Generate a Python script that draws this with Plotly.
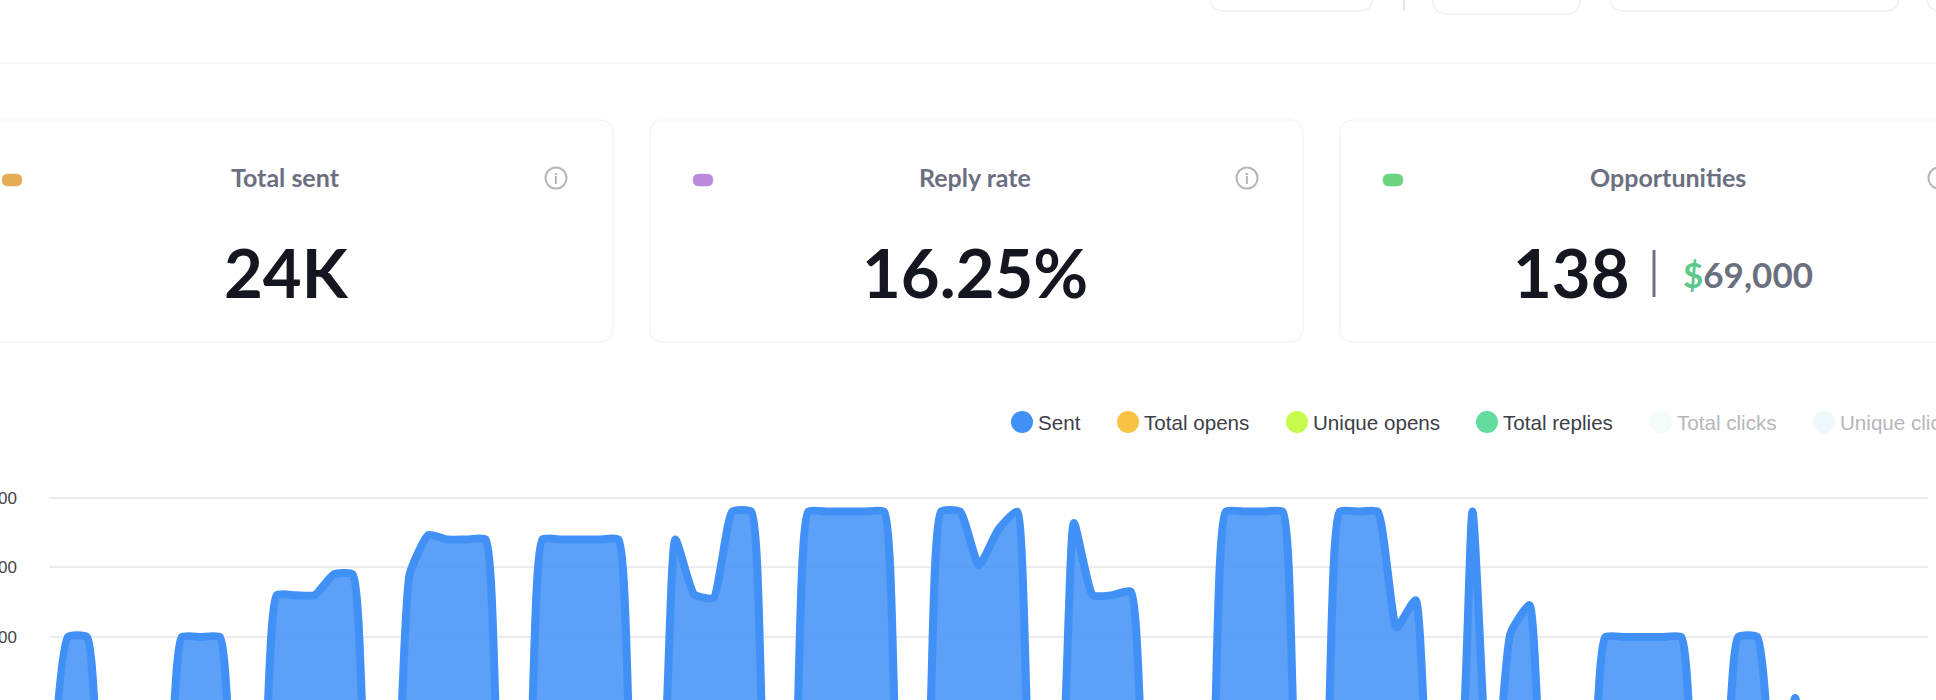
import plotly.graph_objects as go

W = 1936
H = 900  # taller than the window, the bottom of the chart is cut off in the reference

# chart data
days = list(range(100))
sent = [0, 600, 600, 0, 0, 0, 0, 600, 600, 600, 0, 0, 720, 720, 720, 780, 780, 0, 0, 780,
        893, 880, 880, 880, 0, 0, 880, 880, 880, 880, 880, 0, 0, 880, 722, 712, 960, 960, 0, 0,
        960, 960, 960, 960, 960, 0, 0, 960, 960, 806, 907, 960, 0, 0, 927, 720, 720, 730, 0, 0,
        0, 0, 960, 960, 960, 960, 0, 0, 960, 960, 960, 628, 706, 0, 0, 960, 0, 610, 692, 0,
        0, 0, 600, 600, 600, 600, 600, 0, 0, 600, 600, 0, 425, 0, 0, 0, 0, 0, 0, 0]
y_ticks = [1000, 800, 600, 400]
y_labels = ["1000", "800", "600", "400"]

# legend
legend_names = ["Sent", "Total opens", "Unique opens", "Total replies", "Total clicks", "Unique clicks"]
legend_colors = ["#4190f6", "#f8c344", "#c6fb4c", "#63db9c", "#f4fbfb", "#eef8fd"]
legend_text_colors = ["#3c4047", "#3c4047", "#3c4047", "#3c4047", "#b5b7ba", "#b5b7ba"]
legend_x = [1022, 1128, 1297, 1487, 1661, 1824]

# cards
card_titles = ["Total sent", "Reply rate", "Opportunities"]
card_values = ["24K", "16.25%", "138"]
card_pills = ["#e6ac55", "#b88be0", "#6ad47f"]
opportunity_amount = "69,000"


def px(x):
    return x / W


def py(y):
    return 1 - y / H


def round_rect(x0, y0, x1, y1, r):
    # rounded box as a svg path, in paper units
    return (f"M {px(x0 + r)} {py(y0)} L {px(x1 - r)} {py(y0)} Q {px(x1)} {py(y0)} {px(x1)} {py(y0 + r)} "
            f"L {px(x1)} {py(y1 - r)} Q {px(x1)} {py(y1)} {px(x1 - r)} {py(y1)} "
            f"L {px(x0 + r)} {py(y1)} Q {px(x0)} {py(y1)} {px(x0)} {py(y1 - r)} "
            f"L {px(x0)} {py(y0 + r)} Q {px(x0)} {py(y0)} {px(x0 + r)} {py(y0)} Z")


def box(x0, y0, x1, y1, r, line="#f3f4f6", fill="rgba(0,0,0,0)", width=1.5):
    return dict(type="path", xref="paper", yref="paper", path=round_rect(x0, y0, x1, y1, r),
                line=dict(color=line, width=width), fillcolor=fill, layer="below")


def rule(x0, y0, x1, y1, color, width):
    return dict(type="line", xref="paper", yref="paper", x0=px(x0), y0=py(y0), x1=px(x1), y1=py(y1),
                line=dict(color=color, width=width), layer="below")


def dot(x, y, r, fill, line=None, width=0):
    return dict(type="circle", xref="paper", yref="paper", x0=px(x - r), x1=px(x + r), y0=py(y + r), y1=py(y - r),
                fillcolor=fill, line=dict(color=line or fill, width=width), layer="below")


def label(x, y, text, size, color, family="Lato", anchor="center"):
    return dict(xref="paper", yref="paper", x=px(x), y=py(y), text=text, showarrow=False,
                xanchor=anchor, yanchor="middle", font=dict(family=family, size=size, color=color))


shapes = []
annotations = []

# header bits
shapes.append(rule(0, 63, W, 63, "#f1f2f4", 1.5))
shapes.append(box(1210, -30, 1373, 11, 14, line="#f0f0f5"))
shapes.append(rule(1404, 0, 1404, 11, "#e4e4ee", 2))
shapes.append(box(1433, -30, 1580, 14, 14, line="#f0f0f5"))
shapes.append(box(1610, -30, 1899, 11, 14, line="#f0f0f5"))
shapes.append(box(1927, -30, 2000, 11, 14, line="#f0f0f5"))

# cards
card_left = [-60, 650, 1340]
card_right = [613, 1303, 2000]
title_x = [285, 975, 1668]
pill_x = [2, 693, 1383]
info_x = [556, 1247, 1939]
value_x = [286, 975, 1571]
for i in range(3):
    shapes.append(box(card_left[i], 120, card_right[i], 342, 14, line="#f5f5f7"))
    shapes.append(box(pill_x[i], 174, pill_x[i] + 20, 186, 6, line=card_pills[i], fill=card_pills[i], width=0.5))
    shapes.append(dot(info_x[i], 178, 10.5, "rgba(0,0,0,0)", line="#b4b6bb", width=2))
    annotations.append(label(info_x[i], 178, "i", 15, "#9a9ca1"))
    annotations.append(label(title_x[i], 177, f"<b>{card_titles[i]}</b>", 25, "#6b7080"))
    annotations.append(label(value_x[i], 272, f"<b>{card_values[i]}</b>", 67, "#14171f"))

shapes.append(rule(1654, 250, 1654, 297, "#6b7080", 3))
annotations.append(label(1748, 274, f'<b><span style="color:#5cc98c">$</span>{opportunity_amount}</b>', 35, "#6b7080"))

# legend, drawn by hand so the positions can be matched
for i in range(len(legend_names)):
    shapes.append(dot(legend_x[i], 422, 11, legend_colors[i]))
    annotations.append(label(legend_x[i] + 14, 422, legend_names[i], 20.6, legend_text_colors[i],
                             family="Liberation Sans", anchor="left"))

fig = go.Figure()
fig.add_trace(go.Scatter(x=days, y=sent, mode="lines", name="Sent",
                         line=dict(color="#4190f6", width=8, shape="spline", smoothing=0.48),
                         fill="tozeroy", fillcolor="rgba(65,144,246,0.86)"))

fig.update_layout(
    width=W,
    height=H,
    margin=dict(l=0, r=0, t=0, b=0),
    paper_bgcolor="white",
    plot_bgcolor="white",
    showlegend=False,
    hovermode=False,
    shapes=shapes,
    annotations=annotations,
    xaxis=dict(domain=[px(49), px(1928)], range=[0, 99], visible=False, fixedrange=True),
    yaxis=dict(domain=[py(846.2), py(462.8)], range=[0, 1100], tickvals=y_ticks, ticktext=y_labels,
               showgrid=True, gridcolor="#ececee", gridwidth=2, zeroline=False, showline=False,
               ticks="", ticklabelstandoff=31, automargin=False,
               tickfont=dict(family="Liberation Sans", size=17, color="#444444")),
)

fig.write_html("out.html", config={"displayModeBar": False},
               post_script="document.body.style.margin='0';document.documentElement.style.overflow='hidden';document.body.style.overflow='hidden';")
